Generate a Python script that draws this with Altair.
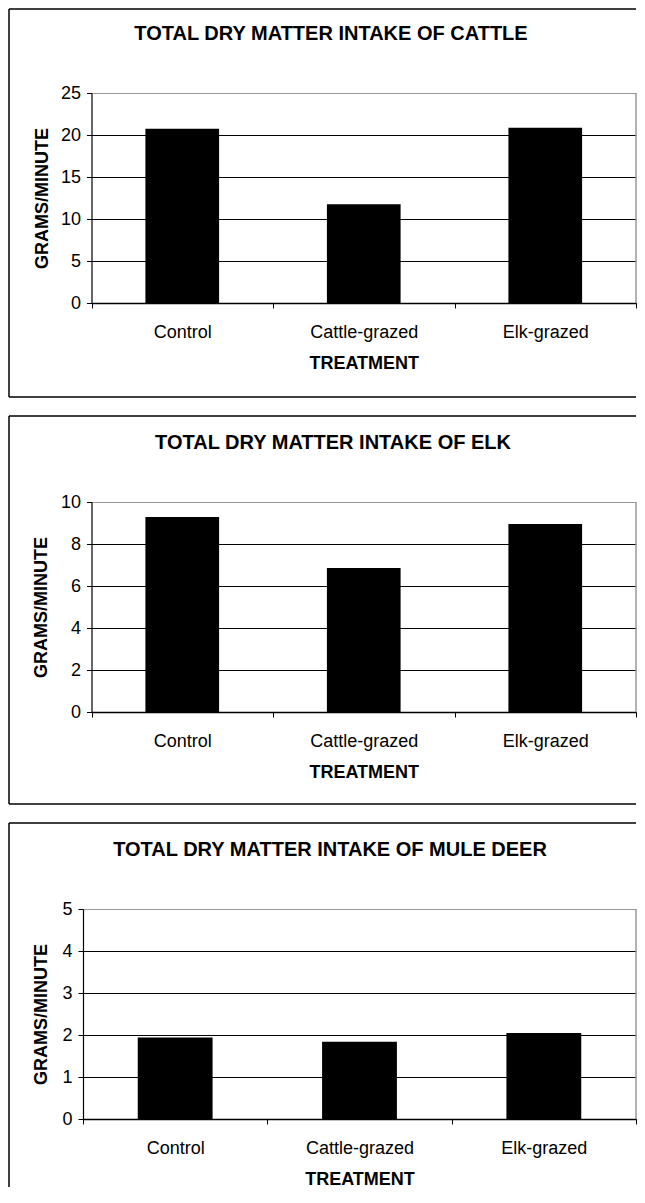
import altair as alt
import pandas as pd

# ---- data ----
categories = ["Control", "Cattle-grazed", "Elk-grazed"]
cattle_values = [20.75, 11.75, 20.85]
elk_values = [9.28, 6.86, 8.95]
deer_values = [1.94, 1.84, 2.05]

cattle_ticks = [0, 5, 10, 15, 20, 25]
elk_ticks = [0, 2, 4, 6, 8, 10]
deer_ticks = [0, 1, 2, 3, 4, 5]

titles = [
    "TOTAL DRY MATTER INTAKE OF CATTLE",
    "TOTAL DRY MATTER INTAKE OF ELK",
    "TOTAL DRY MATTER INTAKE OF MULE DEER",
]
x_title = "TREATMENT"
y_title = "GRAMS/MINUTE"

FONT = "Liberation Sans"
H = 210
W = 553          # common group width (origins are aligned by vconcat)
FRAME_LEFT = -74


def panel(values, ticks, title, inset, frame_top, frame_bottom,
          title_x, ytitle_x, draw_bottom=True):
    df = pd.DataFrame({"treatment": categories, "value": values})
    ymax = ticks[-1]
    bars = alt.Chart(df).mark_bar(
        color="black", width=alt.RelativeBandSize(0.406)
    ).encode(
        x=alt.X(
            "treatment:N", sort=categories,
            scale=alt.Scale(paddingInner=0, paddingOuter=0, range=[inset, W]),
            axis=alt.Axis(
                title=x_title, labelAngle=0, tickBand="extent", tickSize=5,
                labelPadding=24, labelBaseline="middle", labelFontSize=18,
                labelFont=FONT, labelColor="black",
                titleFont=FONT, titleFontSize=18, titleFontWeight="bold",
                titleColor="black", titleY=60, titleBaseline="middle",
                domainColor="black", domainWidth=1.5, tickColor="black",
            ),
        ),
        y=alt.Y(
            "value:Q",
            scale=alt.Scale(domain=[0, ymax], nice=False, zero=True),
            axis=alt.Axis(
                title=y_title, values=ticks, grid=True, offset=-inset,
                gridColor=alt.condition(f"datum.value == {ymax}",
                                        alt.value("#999999"), alt.value("black")),
                gridWidth=1.2, tickSize=5, labelPadding=6, labelFontSize=18,
                labelFont=FONT, labelColor="black",
                titleFont=FONT, titleFontSize=18, titleFontWeight="bold",
                titleColor="black", titleX=ytitle_x, titleY=H / 2,
                titleAngle=270, titleAlign="center", titleBaseline="middle",
                domainColor="black", domainWidth=1.2, tickColor="black",
            ),
        ),
    )

    title_mark = alt.Chart(alt.Data(values=[{"t": title}])).mark_text(
        font=FONT, fontSize=20, fontWeight="bold", align="center",
        baseline="middle", color="black",
    ).encode(text="t:N", x=alt.value(title_x), y=alt.value(-59))

    fdata = alt.Data(values=[{"f": 1}])
    rule_style = dict(color="black", strokeWidth=1.5)
    right_edge = alt.Chart(fdata).mark_rule(color="#999999", strokeWidth=1.5).encode(
        x=alt.value(W), y=alt.value(0), y2=alt.value(H))
    left_rule = alt.Chart(fdata).mark_rule(**rule_style).encode(
        x=alt.value(FRAME_LEFT), y=alt.value(frame_top), y2=alt.value(frame_bottom))
    top_rule = alt.Chart(fdata).mark_rule(**rule_style).encode(
        x=alt.value(FRAME_LEFT), x2=alt.value(W), y=alt.value(frame_top))
    layers = [right_edge, bars, title_mark, left_rule, top_rule]
    if draw_bottom:
        bottom_rule = alt.Chart(fdata).mark_rule(**rule_style).encode(
            x=alt.value(FRAME_LEFT), x2=alt.value(W), y=alt.value(frame_bottom))
        layers.append(bottom_rule)
    return alt.layer(*layers).properties(width=W, height=H)


p1 = panel(cattle_values, cattle_ticks, titles[0], 8.5, -84, 304, 248, -48.75)
p2 = panel(elk_values, elk_ticks, titles[1], 8.5, -86, 302, 250, -50)
p3 = panel(deer_values, deer_ticks, titles[2], 0, -86, 278, 247, -41.75,
           draw_bottom=False)

chart = alt.vconcat(p1, p2, p3, spacing=17).properties(padding=0).configure(
    font=FONT
).configure_view(stroke=None)

chart.save("out.html", embed_options={"renderer": "svg", "actions": False})
